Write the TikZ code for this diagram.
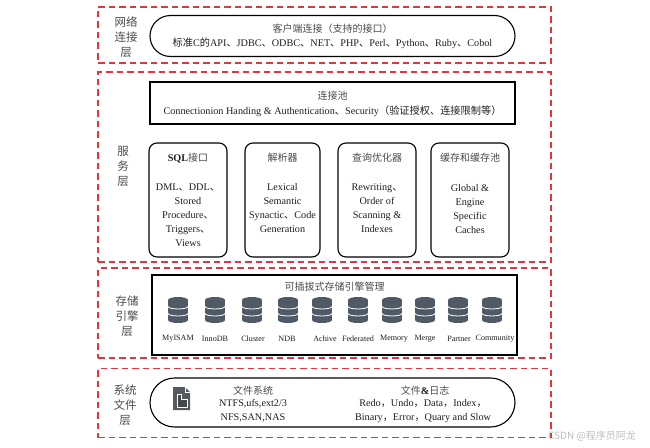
\documentclass[tikz,border=0pt]{standalone}
\usepackage{fontspec}
\setmainfont{Liberation Serif}
\newfontfamily\cjkfont{Noto Sans CJK SC}
\newcommand\zh[1]{{\cjkfont #1}}
\newcommand\dn{\zh{、}}
\definecolor{dashred}{HTML}{E8333D}
\definecolor{txt}{HTML}{1E1E1E}
\definecolor{zhtxt}{HTML}{4A4A4A}
\definecolor{icongray}{HTML}{505A66}
\definecolor{docgray}{HTML}{555A60}
\definecolor{wmgray}{HTML}{BDBDBD}
\tikzset{
  layerbox/.style={draw=dashred, line width=1.4pt, dash pattern=on 6.5pt off 4pt, inner sep=0pt},
  stadium/.style={draw=black, line width=1.1pt, inner sep=0pt},
  plainbox/.style={draw=black, line width=1.1pt, inner sep=0pt},
  modbox/.style={draw=black, line width=1.1pt, rounded corners=8pt, inner sep=0pt, minimum width=77pt, minimum height=114pt},
  lbl/.style={text=zhtxt, font=\cjkfont\fontsize{11.5}{15}\selectfont, align=center, inner sep=0pt},
  body/.style={text=txt, font=\fontsize{10.2}{14}\selectfont, align=center, inner sep=0pt},
  head/.style={text=zhtxt, font=\fontsize{10}{14}\selectfont, align=center, inner sep=0pt},
  dblabel/.style={text=txt, font=\fontsize{8.1}{9}\selectfont, inner sep=0pt},
  dbcyl/.pic={
    \fill[icongray] (-10,-10) rectangle (10,10);
    \fill[icongray] (0,-10) ellipse [x radius=10pt, y radius=3pt];
    \fill[icongray] (0,10) ellipse [x radius=10pt, y radius=3pt];
    \draw[white, line width=0.8pt] (-10,-3.6) .. controls (-10,-0.2) and (10,-0.2) .. (10,-3.6);
    \draw[white, line width=0.8pt] (-10,3.4) .. controls (-10,6.8) and (10,6.8) .. (10,3.4);
  }
}
\begin{document}
\begin{tikzpicture}[x=1pt,y=-1pt]
\useasboundingbox (0,0) rectangle (650,447);

% layer frames
\node[layerbox, minimum width=453pt, minimum height=56pt] (L1) at (324.5,35) {};
\node[layerbox, minimum width=453pt, minimum height=190pt] (L2) at (324.5,167) {};
\node[layerbox, minimum width=453pt, minimum height=90pt] (L3) at (324.5,313) {};
\node[layerbox, minimum width=453pt, minimum height=69pt] (L4) at (324.5,403) {};

% layer labels
\node[lbl] (t1) at (126,37) {网络\\连接\\层};
\node[lbl] (t2) at (123,166.5) {服\\务\\层};
\node[lbl] (t3) at (127,316) {存储\\引擎\\层};
\node[lbl] (t4) at (125,405) {系统\\文件\\层};

% client connection
\node[stadium, minimum width=365pt, minimum height=41pt, rounded corners=20.5pt] (client) at (332.5,36) {};
\node[head] (clienth) at (332.5,29) {\zh{客户端连接（支持的接口）}};
\node[body] (clientb) at (332.5,43.5) {\zh{标准}C\zh{的}API\dn JDBC\dn ODBC\dn NET\dn PHP\dn Perl\dn Python\dn Ruby\dn Cobol};

% connection pool
\node[plainbox, minimum width=365pt, minimum height=42pt] (pool) at (332.5,103) {};
\node[head] (poolh) at (332.5,96) {\zh{连接池}};
\node[body] (poolb) at (332.5,111) {Connectionion Handing \& Authentication\dn Security\zh{（验证授权、连接限制等）}};

% service modules
\node[modbox, minimum width=78pt] (m1) at (188,200) {};
\node[modbox, minimum width=75pt] (m2) at (282.5,200) {};
\node[modbox, minimum width=78pt] (m3) at (377,200) {};
\node[modbox, minimum width=78pt] (m4) at (470,200) {};
\node[head] (m1h) at (188,158) {\textcolor{txt}{\fontsize{10.2}{14}\selectfont\bfseries SQL}\zh{接口}};
\node[head] (m2h) at (282.5,158) {\zh{解析器}};
\node[head] (m3h) at (377,158) {\zh{查询优化器}};
\node[head] (m4h) at (470,158) {\zh{缓存和缓存池}};
\node[body] (m1b) at (188,215) {DML\dn DDL\dn\\Stored\\Procedure\dn\\Triggers\dn\\Views};
\node[body] (m2b) at (282.5,208) {Lexical\\Semantic\\Synactic\dn Code\\Generation};
\node[body] (m3b) at (377,208.5) {Rewriting\dn\\Order of\\Scanning \&\\Indexes};
\node[body] (m4b) at (470,209) {Global \&\\Engine\\Specific\\Caches};

% storage engines
\node[plainbox, minimum width=365pt, minimum height=80pt] (store) at (334.5,315) {};
\node[head] (storeh) at (334.5,287) {\zh{可插拔式存储引擎管理}};
\foreach \x/\n/\lab/\lx in {178/e1/MyISAM/178, 215/e2/InnoDB/215, 252/e3/Cluster/253, 288/e4/NDB/287, 322/e5/Achive/325, 358/e6/Federated/358, 392/e7/Memory/394, 425/e8/Merge/425, 458/e9/Partner/459, 492/e10/Community/495}{
  \pic at (\x,310) {dbcyl};
  \node[dblabel] (\n) at (\lx,339) {\lab};
}

% file system layer
\node[stadium, minimum width=365pt, minimum height=49pt, rounded corners=24.5pt] (fs) at (332.5,402.5) {};
\fill[docgray] (173,387) -- (185,387) -- (190,392) -- (190,410) -- (173,410) -- cycle;
\draw[white, line width=0.7pt, fill=docgray!80!black] (177,394) -- (181,394) -- (181,399) -- (187,399) -- (187,407) -- (177,407) -- cycle;
\draw[white, line width=0.6pt] (185,387) -- (185,392) -- (190,392);
\node[head] (fsh) at (253,391) {\zh{文件系统}};
\node[body] (fsb) at (253,411) {NTFS,ufs,ext2/3\\NFS,SAN,NAS};
\node[head] (logh) at (425,391) {\zh{文件}\textcolor{txt}{\fontsize{10.2}{14}\selectfont\bfseries\&}\zh{日志}};
\node[body] (logb) at (423,411.5) {Redo\zh{，}Undo\zh{，}Data\zh{，}Index\zh{，}\\Binary\zh{，}Error\zh{，}Quary and Slow};

% watermark
\node[text=wmgray, font=\cjkfont\fontsize{10}{12}\selectfont, inner sep=0pt] (wm) at (592,436) {CSDN @程序员阿龙};
\end{tikzpicture}
\end{document}
